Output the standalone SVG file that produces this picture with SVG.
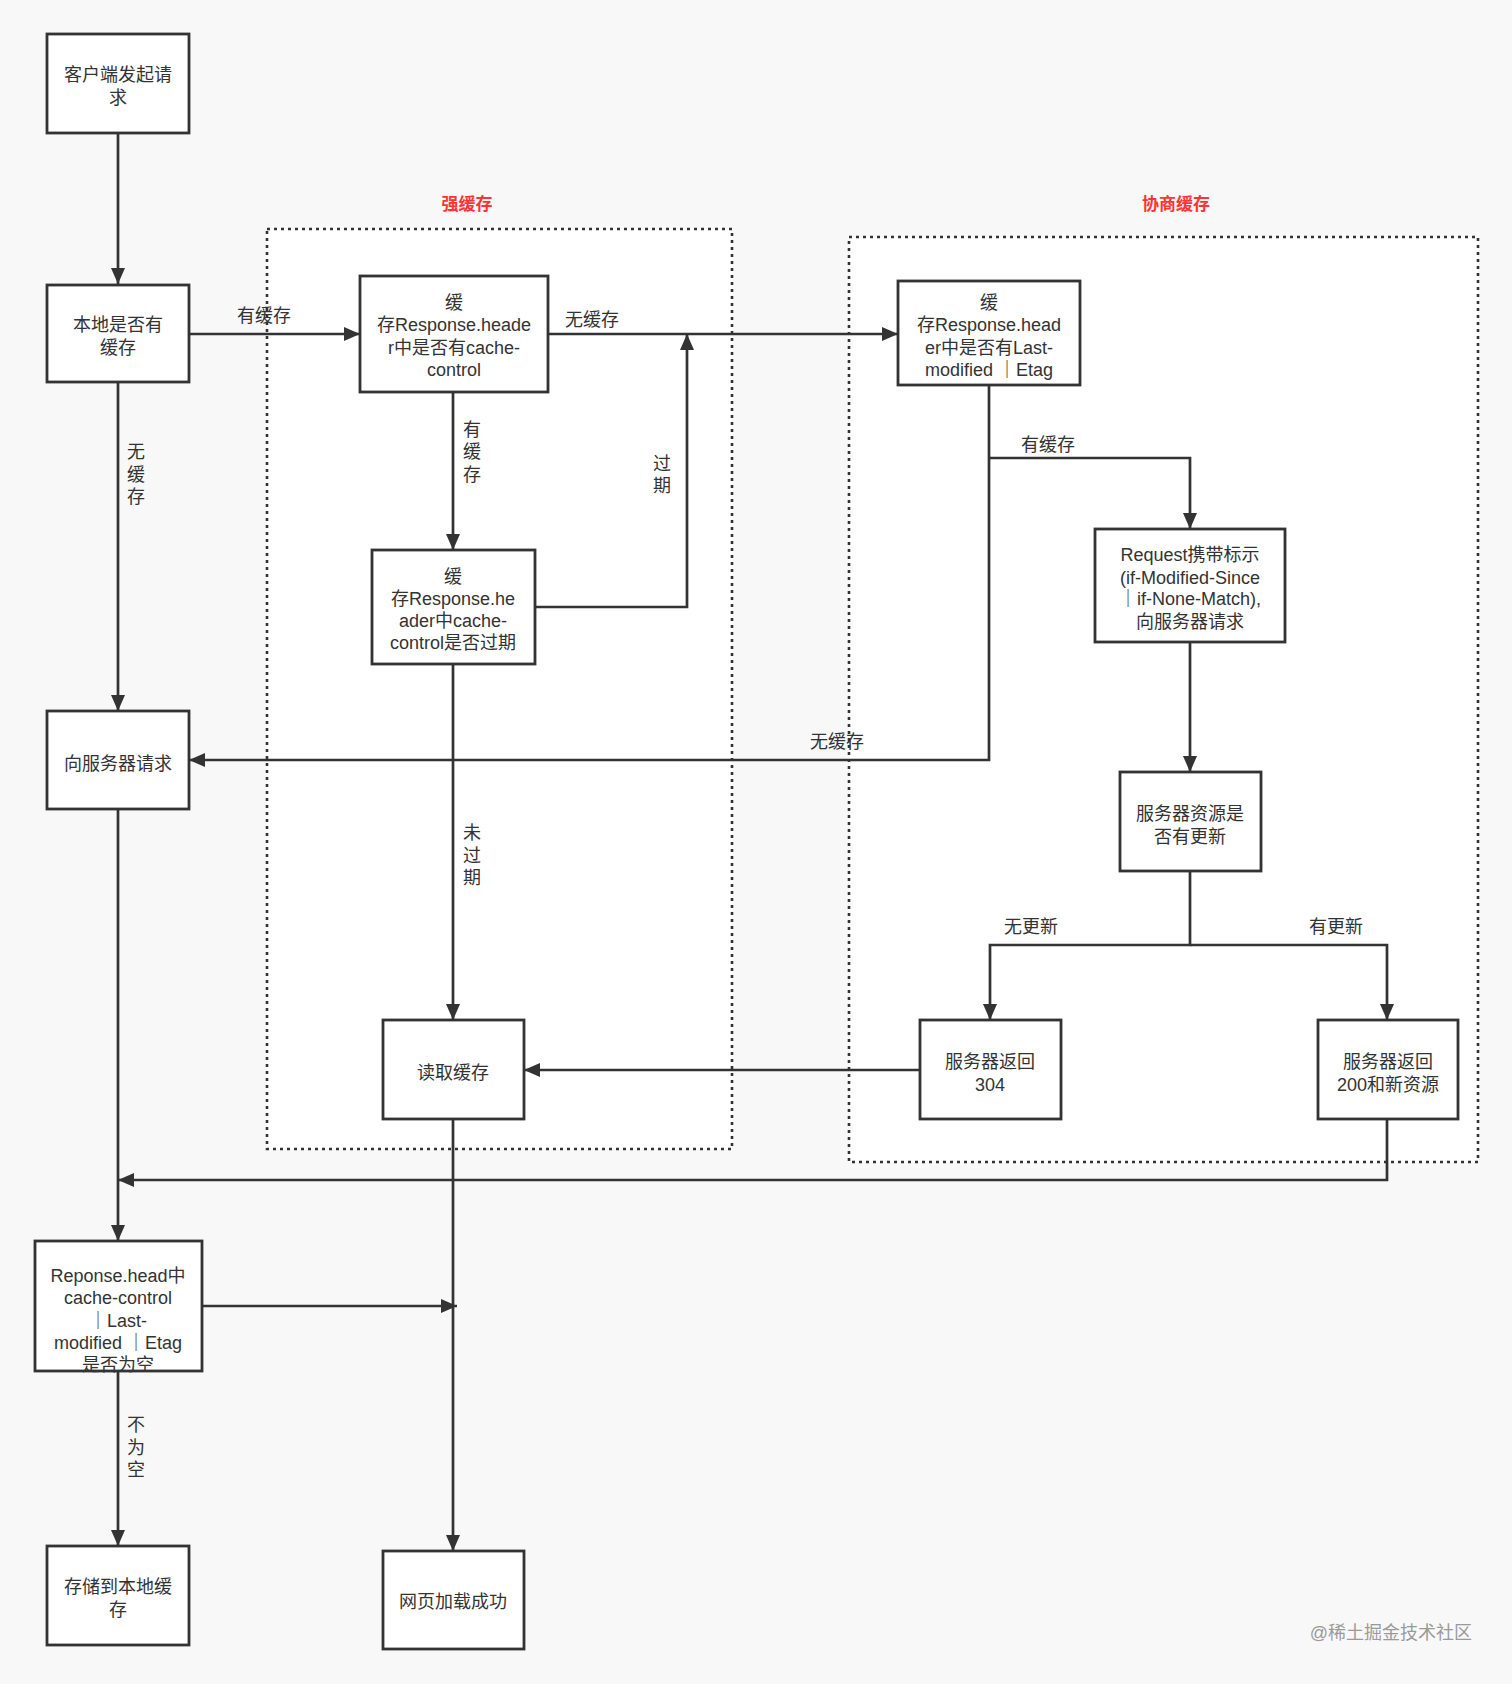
<svg xmlns="http://www.w3.org/2000/svg" width="1512" height="1684" viewBox="0 0 1512 1684">
<style>
.bg{fill:#f8f8f8}
.zone{fill:#ffffff;stroke:#333;stroke-width:2.6;stroke-dasharray:3 4}
.node rect{fill:#ffffff;stroke:#333;stroke-width:2.8}
text{font-family:"Liberation Sans","Noto Sans CJK SC",sans-serif;font-size:18px;fill:#333}
.node text{text-anchor:middle}
.lbl{text-anchor:middle}
.title{fill:#ff3333;font-size:17px;font-weight:bold;text-anchor:middle}
.conn path{fill:none;stroke:#333;stroke-width:2.7}
.wm{fill:#9a9a9a;font-size:18px;text-anchor:end}
</style>
<defs>
<marker id="arr" markerUnits="userSpaceOnUse" markerWidth="17" markerHeight="14" refX="16" refY="7" orient="auto">
<path d="M0,0 L16,7 L0,14 z" fill="#333"/>
</marker>
</defs>
<rect class="bg" x="0" y="0" width="1512" height="1684"/>

<g id="zone-strong">
<rect class="zone" x="267" y="229" width="465" height="920"/>
<text class="title" x="467" y="210">强缓存</text>
</g>
<g id="zone-negotiate">
<rect class="zone" x="849" y="237" width="629" height="925"/>
<text class="title" x="1176" y="210">协商缓存</text>
</g>

<g class="conn" id="connectors">
<path d="M118,133 V284" marker-end="url(#arr)"/>
<path d="M189,334 H360" marker-end="url(#arr)"/>
<path d="M548,334 H898" marker-end="url(#arr)"/>
<path d="M453,392 V550" marker-end="url(#arr)"/>
<path d="M535,607 H687 V334" marker-end="url(#arr)"/>
<path d="M118,382 V711" marker-end="url(#arr)"/>
<path d="M989,385 V760 H189" marker-end="url(#arr)"/>
<path d="M989,458 H1190 V529" marker-end="url(#arr)"/>
<path d="M1190,642 V772" marker-end="url(#arr)"/>
<path d="M1190,871 V945 H990 V1020" marker-end="url(#arr)"/>
<path d="M1190,945 H1387 V1020" marker-end="url(#arr)"/>
<path d="M920,1070 H524" marker-end="url(#arr)"/>
<path d="M1387,1119 V1180 H118" marker-end="url(#arr)"/>
<path d="M118,809 V1241" marker-end="url(#arr)"/>
<path d="M453,664 V1020" marker-end="url(#arr)"/>
<path d="M453,1119 V1551" marker-end="url(#arr)"/>
<path d="M202,1306 H457" marker-end="url(#arr)"/>
<path d="M118,1371 V1546" marker-end="url(#arr)"/>
<text class="lbl" x="264" y="322">有缓存</text>
<text class="lbl" x="592" y="326">无缓存</text>
<text class="lbl" x="472" y="436">有</text>
<text class="lbl" x="472" y="458">缓</text>
<text class="lbl" x="472" y="481">存</text>
<text class="lbl" x="662" y="470">过</text>
<text class="lbl" x="662" y="492">期</text>
<text class="lbl" x="136" y="458">无</text>
<text class="lbl" x="136" y="481">缓</text>
<text class="lbl" x="136" y="503">存</text>
<text class="lbl" x="472" y="839">未</text>
<text class="lbl" x="472" y="862">过</text>
<text class="lbl" x="472" y="884">期</text>
<text class="lbl" x="136" y="1431">不</text>
<text class="lbl" x="136" y="1454">为</text>
<text class="lbl" x="136" y="1476">空</text>
<text class="lbl" x="837" y="748">无缓存</text>
<text class="lbl" x="1048" y="451">有缓存</text>
<text class="lbl" x="1031" y="933">无更新</text>
<text class="lbl" x="1336" y="933">有更新</text>
</g>

<g class="node" id="n-client">
<rect x="47" y="34" width="142" height="99"/>
<text x="118" y="81">客户端发起请</text>
<text x="118" y="104">求</text>
</g>
<g class="node" id="n-local">
<rect x="47" y="285" width="142" height="97"/>
<text x="118" y="331">本地是否有</text>
<text x="118" y="354">缓存</text>
</g>
<g class="node" id="n-cc">
<rect x="360" y="276" width="188" height="116"/>
<text x="454" y="309">缓</text>
<text x="454" y="331">存Response.heade</text>
<text x="454" y="354">r中是否有cache-</text>
<text x="454" y="376">control</text>
</g>
<g class="node" id="n-expire">
<rect x="372" y="550" width="163" height="114"/>
<text x="453" y="583">缓</text>
<text x="453" y="605">存Response.he</text>
<text x="453" y="627">ader中cache-</text>
<text x="453" y="649">control是否过期</text>
</g>
<g class="node" id="n-req">
<rect x="47" y="711" width="142" height="98"/>
<text x="118" y="770">向服务器请求</text>
</g>
<g class="node" id="n-read">
<rect x="383" y="1020" width="141" height="99"/>
<text x="453" y="1079">读取缓存</text>
</g>
<g class="node" id="n-lm">
<rect x="898" y="281" width="182" height="104"/>
<text x="989" y="309">缓</text>
<text x="989" y="331">存Response.head</text>
<text x="989" y="354">er中是否有Last-</text>
<text x="989" y="376">modified ｜Etag</text>
</g>
<g class="node" id="n-cond">
<rect x="1095" y="529" width="190" height="113"/>
<text x="1190" y="561">Request携带标示</text>
<text x="1190" y="584">(if-Modified-Since</text>
<text x="1190" y="605">｜if-None-Match),</text>
<text x="1190" y="628">向服务器请求</text>
</g>
<g class="node" id="n-upd">
<rect x="1120" y="772" width="141" height="99"/>
<text x="1190" y="820">服务器资源是</text>
<text x="1190" y="843">否有更新</text>
</g>
<g class="node" id="n-304">
<rect x="920" y="1020" width="141" height="99"/>
<text x="990" y="1068">服务器返回</text>
<text x="990" y="1091">304</text>
</g>
<g class="node" id="n-200">
<rect x="1318" y="1020" width="140" height="99"/>
<text x="1388" y="1068">服务器返回</text>
<text x="1388" y="1091">200和新资源</text>
</g>
<g class="node" id="n-empty">
<rect x="35" y="1241" width="167" height="130"/>
<text x="118" y="1282">Reponse.head中</text>
<text x="118" y="1304">cache-control</text>
<text x="118" y="1327">｜Last-</text>
<text x="118" y="1349">modified ｜Etag</text>
<text x="118" y="1371">是否为空</text>
</g>
<g class="node" id="n-store">
<rect x="47" y="1546" width="142" height="99"/>
<text x="118" y="1593">存储到本地缓</text>
<text x="118" y="1616">存</text>
</g>
<g class="node" id="n-ok">
<rect x="383" y="1551" width="141" height="98"/>
<text x="453" y="1608">网页加载成功</text>
</g>

<text class="wm" x="1472" y="1639">@稀土掘金技术社区</text>
</svg>
